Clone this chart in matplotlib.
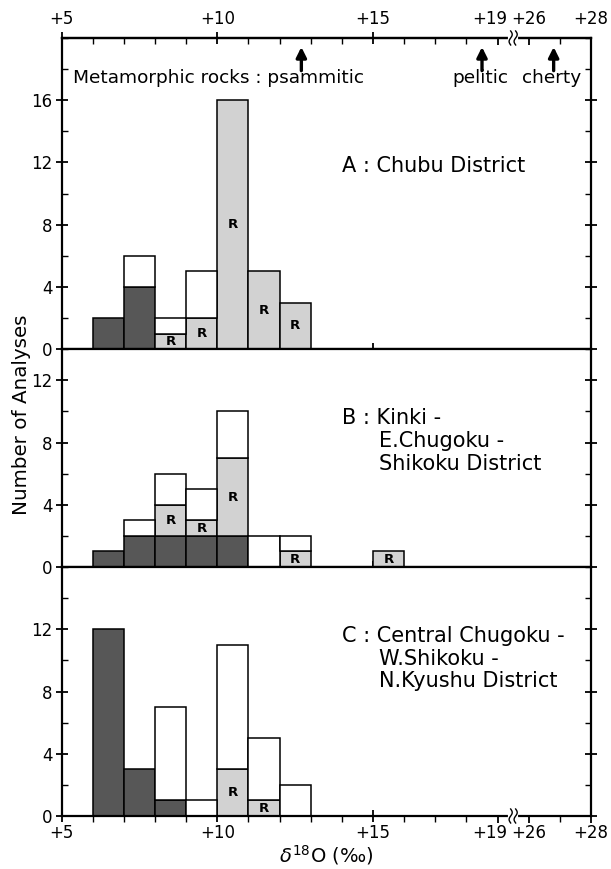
import numpy as np
import matplotlib.pyplot as plt
from matplotlib.lines import TICKDOWN
from matplotlib.transforms import blended_transform_factory, ScaledTranslation
from matplotlib.ticker import MultipleLocator, FixedLocator

plt.rcParams['font.family'] = ['DejaVu Sans']
plt.rcParams['mathtext.fontset'] = 'dejavusans'

# left edges of 1 permil bins (delta18O)
bin_left = [6, 7, 8, 9, 10, 11, 12, 13, 14, 15]

# A : Chubu District
a_dark = [2, 4, 0, 0, 0, 0, 0, 0, 0, 0]
a_gray = [0, 0, 1, 2, 16, 5, 3, 0, 0, 0]
a_white = [0, 2, 1, 3, 0, 0, 0, 0, 0, 0]

# B : Kinki - E.Chugoku - Shikoku District
b_dark = [1, 2, 2, 2, 2, 0, 0, 0, 0, 0]
b_gray = [0, 0, 2, 1, 5, 0, 1, 0, 0, 1]
b_white = [0, 1, 2, 2, 3, 2, 1, 0, 0, 0]

# C : Central Chugoku - W.Shikoku - N.Kyushu District
c_dark = [12, 3, 1, 0, 0, 0, 0, 0, 0, 0]
c_gray = [0, 0, 0, 0, 3, 1, 0, 0, 0, 0]
c_white = [0, 0, 6, 1, 8, 4, 2, 0, 0, 0]

panel_titles = [
    ['A : Chubu District'],
    ['B : Kinki -', 'E.Chugoku -', 'Shikoku District'],
    ['C : Central Chugoku -', 'W.Shikoku -', 'N.Kyushu District'],
]
panel_ymax = [20, 14, 16]
panel_title_y = [11.8, 9.55, 11.55]

# metamorphic rocks (arrows on top axis)
rock_names = ['psammitic', 'pelitic', 'cherty']
rock_d18o = [12.7, 18.5, 26.8]

tick_vals = [5, 10, 15, 19, 26, 28]
tick_labels = ['+5', '+10', '+15', '+19', '+26', '+28']

DARK = '#575757'
GRAY = '#d2d2d2'
FS_TICK = 12
FS_TITLE = 15
FS_ROCK = 13.3


def xpos(v):
    # broken axis: 19 -> 26 squeezed into one unit
    v = np.asarray(v, dtype=float)
    return np.where(v <= 19, v, v - 6)


def draw_bars(ax, dark, gray, white):
    x = np.array(bin_left, dtype=float)
    dark = np.array(dark, dtype=float)
    gray = np.array(gray, dtype=float)
    white = np.array(white, dtype=float)
    kw = dict(width=1, align='edge', edgecolor='black', linewidth=1.1, zorder=3)
    m = dark > 0
    ax.bar(x[m], dark[m], color=DARK, **kw)
    m = gray > 0
    ax.bar(x[m], gray[m], bottom=dark[m], color=GRAY, **kw)
    for xi, b, h in zip(x[m], dark[m], gray[m]):
        ax.text(xi + 0.5, b + h / 2, 'R', ha='center', va='center',
                fontsize=9.5, fontweight='bold', zorder=4)
    m = white > 0
    ax.bar(x[m], white[m], bottom=dark[m] + gray[m], color='white', **kw)


def set_xticks(axis, labels):
    axis.set_ticks(xpos(tick_vals))
    axis.set_ticklabels(labels if labels else [''] * len(tick_vals))
    axis.set_minor_locator(MultipleLocator(1))
    ticks = axis.get_major_ticks()
    for t in ticks[3:]:
        for ln in (t.tick1line, t.tick2line):
            ln.set_marker(TICKDOWN)
            ln.set_markersize(5)
    # nudge "+19" left so it clears "+26" beside the axis break
    shift = ScaledTranslation(-7.5 / 100, 0, fig.dpi_scale_trans)
    for lab in (ticks[3].label1, ticks[3].label2):
        lab.set_transform(lab.get_transform() + shift)


def draw_break(ax, yfrac):
    trans = blended_transform_factory(ax.transData, ax.transAxes)
    h = 7.0 / (ax.get_position().height * 869)
    ax.plot([19.4, 19.6], [yfrac, yfrac], color='white', lw=3,
            transform=trans, clip_on=False, zorder=6)
    t = np.linspace(-1, 1, 40)
    for dx in (-0.08, 0.08):
        ax.plot(19.5 + dx + 0.05 * np.sin(np.pi * t), yfrac + t * h,
                color='black', lw=1.0, transform=trans, clip_on=False, zorder=7)


fig = plt.figure(figsize=(6.11, 8.69), dpi=100)
gs = fig.add_gridspec(3, 1, height_ratios=panel_ymax, hspace=0,
                      left=0.1007, right=0.9673, top=0.9563, bottom=0.061)
axes = [fig.add_subplot(gs[i]) for i in range(3)]

data = [(a_dark, a_gray, a_white), (b_dark, b_gray, b_white),
        (c_dark, c_gray, c_white)]

for i, ax in enumerate(axes):
    draw_bars(ax, *data[i])
    ax.set_xlim(5, 22)
    ax.set_ylim(0, panel_ymax[i])
    for s in ax.spines.values():
        s.set_linewidth(1.6)
        s.set_zorder(5)
    ax.yaxis.set_major_locator(FixedLocator(list(range(0, panel_ymax[i], 4))))
    ax.yaxis.set_minor_locator(MultipleLocator(2))
    ax.tick_params(axis='y', which='major', direction='inout', length=9,
                   width=1.3, left=True, right=True, labelsize=FS_TICK, pad=2)
    ax.tick_params(axis='y', which='minor', direction='in', length=4.5,
                   width=1.0, left=True, right=True)
    ax.tick_params(axis='x', which='major', direction='inout', length=9,
                   width=1.3, top=False, labelsize=FS_TICK, pad=1)
    ax.tick_params(axis='x', which='minor', direction='out', length=4.5,
                   width=1.0, top=False)
    set_xticks(ax.xaxis, tick_labels if i == 2 else None)
    if i < 2:
        ax.tick_params(axis='x', which='major', labelbottom=False)

    lines = panel_titles[i]
    ax.text(14.0, panel_title_y[i], lines[0], fontsize=FS_TITLE,
            ha='left', va='center')
    for k, line in enumerate(lines[1:]):
        ax.text(15.2, panel_title_y[i] - (k + 1) * 1.45, line,
                fontsize=FS_TITLE, ha='left', va='center')

# top axis with tick labels
axA = axes[0]
sec = axA.secondary_xaxis('top')
sec.tick_params(axis='x', which='major', direction='inout', length=9,
                width=1.3, labelsize=FS_TICK, pad=2.5)
sec.tick_params(axis='x', which='minor', direction='in', length=4.5, width=1.0)
sec.spines['top'].set_linewidth(1.6)
set_xticks(sec.xaxis, tick_labels)

# metamorphic rock arrows
for v in rock_d18o:
    xp = float(xpos(v))
    axA.annotate('', xy=(xp, 19.42), xytext=(xp, 17.9),
                 arrowprops=dict(arrowstyle='-|>', color='black', lw=2.4,
                                 mutation_scale=15, shrinkA=0, shrinkB=0),
                 annotation_clip=False)
axA.text(5.38, 17.4, 'Metamorphic rocks : ' + rock_names[0], fontsize=FS_ROCK,
         ha='left', va='center')
axA.text(float(xpos(rock_d18o[1])) - 0.05, 17.4, rock_names[1],
         fontsize=FS_ROCK, ha='center', va='center')
axA.text(float(xpos(rock_d18o[2])) - 0.05, 17.4, rock_names[2],
         fontsize=FS_ROCK, ha='center', va='center')

draw_break(axes[0], 1.0)
draw_break(axes[2], 0.0)

axes[2].set_xlabel(r'$\delta^{18}$O (‰)', fontsize=14, labelpad=1)
fig.text(0.036, 1 - 415 / 869, 'Number of Analyses', rotation=90,
         ha='center', va='center', fontsize=14.3)

fig.savefig('out.png', dpi=100)
